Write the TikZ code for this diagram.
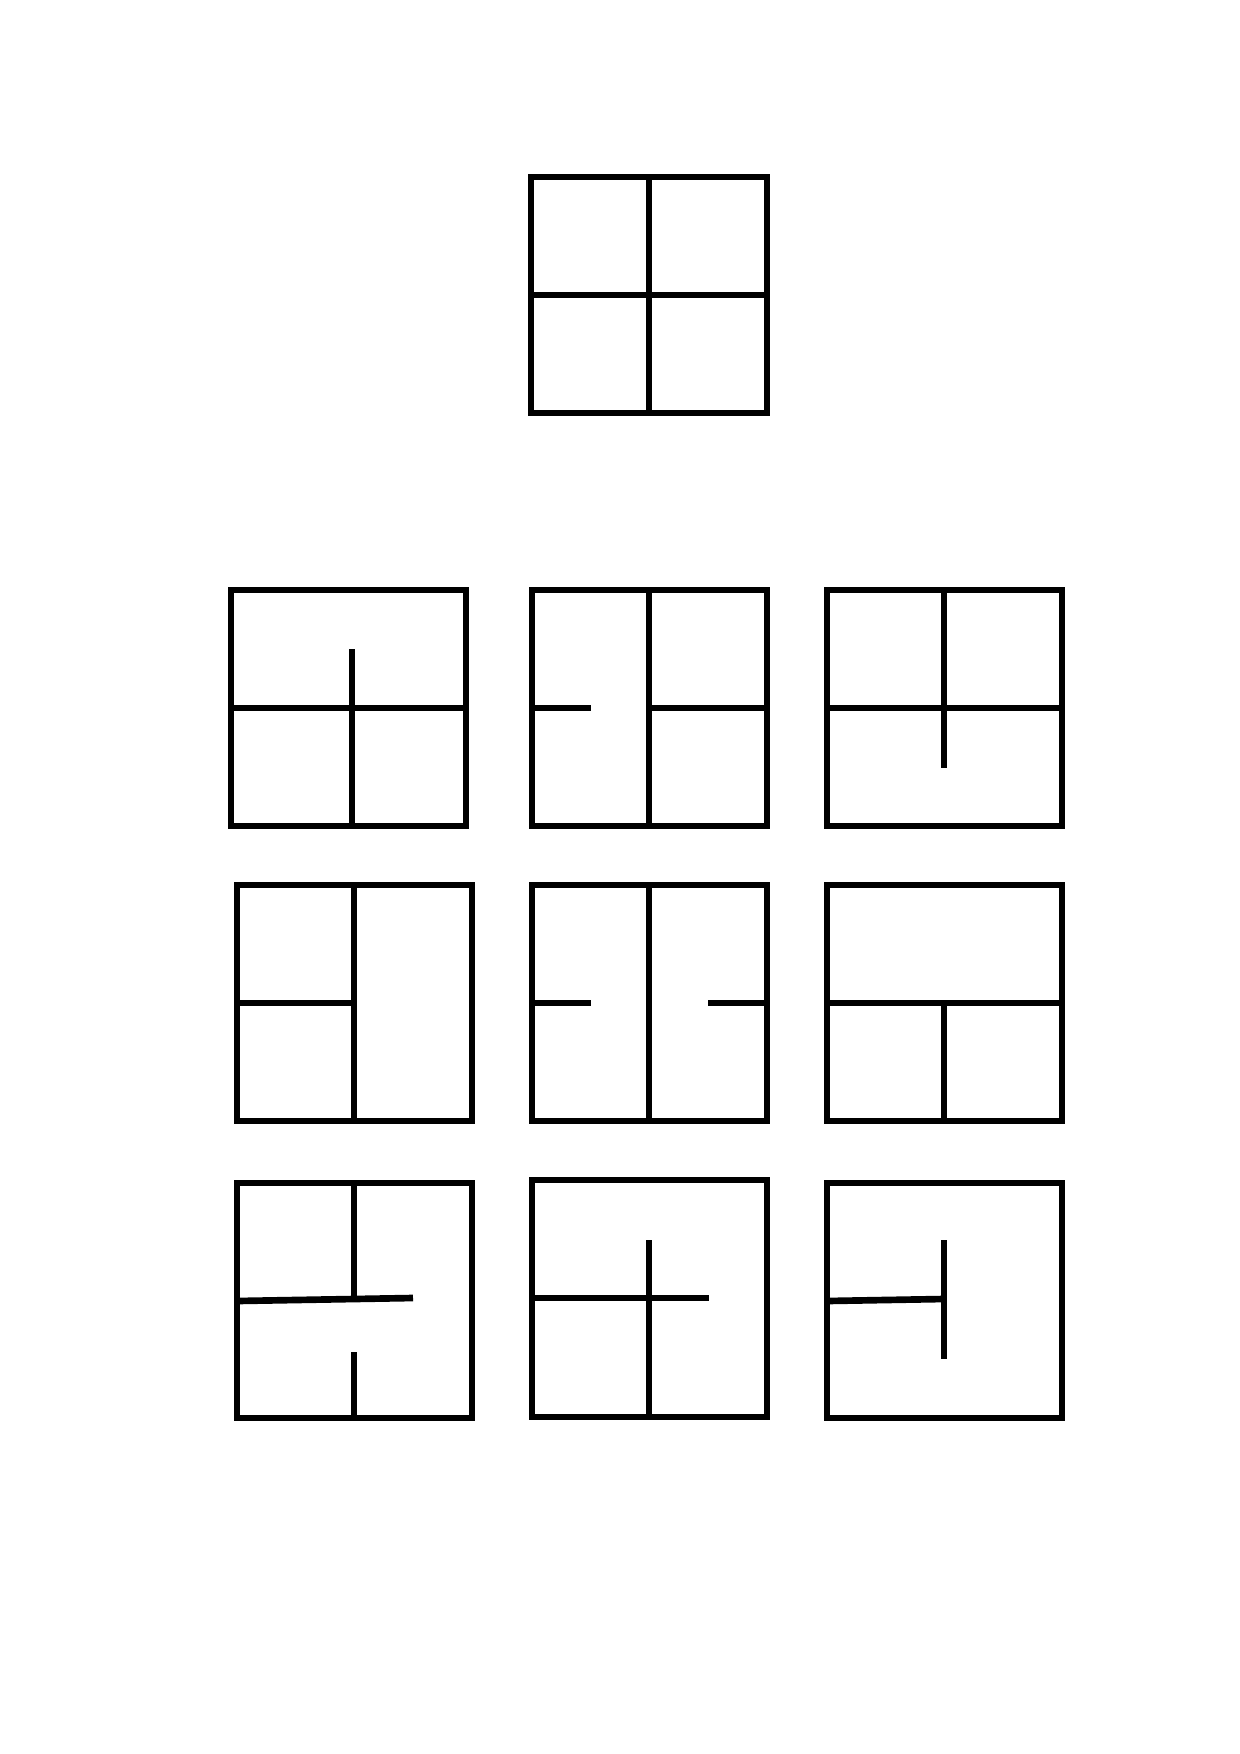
\documentclass[tikz,border=0pt]{standalone}
\usepackage{tikz}
\tikzset{
  wall/.style={
    draw,
    line width=3.2pt,
    black
  },
  room/.style={
    wall,
    line join=miter
  }
}
\begin{document}
\begin{tikzpicture}[x=0.48pt,y=-0.48pt]
  \useasboundingbox (0,0) rectangle (1240,1754);
  % top plan
  \draw[room] (531,177) rectangle (767,413);
  \draw[wall] (649,177) -- (649,413);
  \draw[wall] (531,295) -- (767,295);
  % first row
  \draw[room] (231,590) rectangle (466,826);
  \draw[wall] (231,708) -- (466,708);
  \draw[wall] (352,649) -- (352,826);
  \draw[room] (532,590) rectangle (767,826);
  \draw[wall] (649,590) -- (649,826);
  \draw[wall] (532,708) -- (591,708);
  \draw[wall] (649,708) -- (767,708);
  \draw[room] (827,590) rectangle (1062,826);
  \draw[wall] (827,708) -- (1062,708);
  \draw[wall] (944,590) -- (944,768);
  % second row
  \draw[room] (237,885) rectangle (472,1121);
  \draw[wall] (354,885) -- (354,1121);
  \draw[wall] (237,1003) -- (354,1003);
  \draw[room] (532,885) rectangle (767,1121);
  \draw[wall] (649,885) -- (649,1121);
  \draw[wall] (532,1003) -- (591,1003);
  \draw[wall] (708,1003) -- (767,1003);
  \draw[room] (827,885) rectangle (1062,1121);
  \draw[wall] (827,1003) -- (1062,1003);
  \draw[wall] (944,1003) -- (944,1121);
  % third row
  \draw[room] (237,1183) rectangle (472,1418);
  \draw[wall] (354,1183) -- (354,1298);
  \draw[wall] (237,1301) -- (413,1298);
  \draw[wall] (354,1352) -- (354,1418);
  \draw[room] (532,1180) rectangle (767,1417);
  \draw[wall] (532,1298) -- (709,1298);
  \draw[wall] (649,1240) -- (649,1417);
  \draw[room] (827,1183) rectangle (1062,1418);
  \draw[wall] (827,1301) -- (944,1299);
  \draw[wall] (944,1240) -- (944,1359);
\end{tikzpicture}
\end{document}
